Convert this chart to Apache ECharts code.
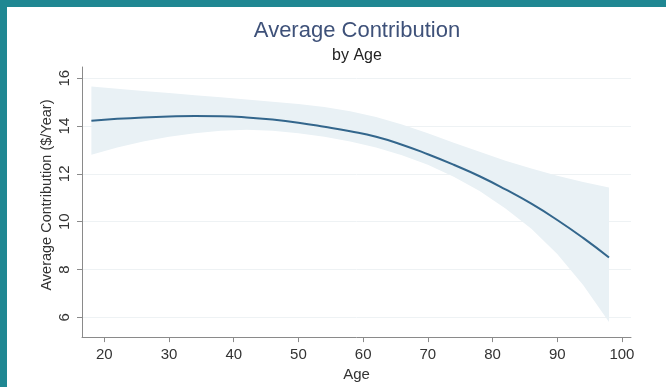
<!DOCTYPE html>
<html>
<head>
<meta charset="utf-8">
<script src="https://cdn.jsdelivr.net/npm/echarts@6/dist/echarts.min.js"></script>
<style>
html, body { margin: 0; padding: 0; width: 666px; height: 387px; overflow: hidden; background: #1f8792; }
#bg { position: absolute; left: 7px; top: 7px; right: 0; bottom: 0; background: #ffffff; }
#chart { position: absolute; left: 0; top: 0; width: 666px; height: 387px; }
</style>
</head>
<body>
<div id="bg"></div>
<div id="chart"></div>
<script>
const ages = [18, 22, 26, 30, 34, 38, 42, 46, 50, 54, 58, 62, 66, 70, 74, 78, 82, 86, 90, 94, 98];
const fitted = [14.22, 14.30, 14.36, 14.40, 14.42, 14.41, 14.36, 14.27, 14.14, 13.97, 13.78, 13.55, 13.22, 12.82, 12.38, 11.90, 11.35, 10.75, 10.07, 9.32, 8.50];
const upper = [15.65, 15.56, 15.47, 15.38, 15.29, 15.20, 15.11, 15.02, 14.92, 14.80, 14.62, 14.38, 14.06, 13.70, 13.30, 12.92, 12.55, 12.22, 11.92, 11.66, 11.43];
const lower = [12.80, 13.10, 13.35, 13.55, 13.70, 13.80, 13.84, 13.80, 13.70, 13.55, 13.35, 13.10, 12.78, 12.38, 11.88, 11.28, 10.55, 9.70, 8.65, 7.35, 5.80];
const xTicks = [20, 30, 40, 50, 60, 70, 80, 90, 100];
const yTicks = [6, 8, 10, 12, 14, 16];

const chart = echarts.init(document.getElementById('chart'), null, { renderer: 'canvas' });
const font = '"Liberation Sans", Arial, Helvetica, sans-serif';
const axisGray = '#8a8a8a';
const textCol = '#333333';

chart.setOption({
  backgroundColor: 'transparent',
  animation: false,
  title: [
    { text: 'Average Contribution', left: 352, top: 15, textAlign: 'center',
      textStyle: { fontFamily: font, fontSize: 22, fontWeight: 'normal', color: '#3e5179' } },
    { text: 'by Age', left: 352, top: 43, textAlign: 'center',
      textStyle: { fontFamily: font, fontSize: 16, fontWeight: 'normal', color: '#222222' } }
  ],
  grid: { left: 82, right: 35, top: 67, bottom: 49, containLabel: false },
  xAxis: {
    type: 'value', min: 16.55, max: 101.4,
    name: 'Age', nameLocation: 'middle', nameGap: 26,
    nameTextStyle: { fontFamily: font, fontSize: 15, color: textCol },
    axisLine: { show: true, lineStyle: { color: axisGray, width: 1 } },
    axisTick: { show: true, length: 5, customValues: xTicks, lineStyle: { color: axisGray } },
    axisLabel: { customValues: xTicks, margin: 10, fontFamily: font, fontSize: 15, color: textCol },
    splitLine: { show: false }
  },
  yAxis: {
    type: 'value', min: 5.17, max: 16.47,
    name: 'Average Contribution ($/Year)', nameLocation: 'middle', nameGap: 28, nameRotate: 90,
    nameMoveOverlap: false,
    nameTextStyle: { fontFamily: font, fontSize: 14.5, color: textCol, padding: [0, 0, 0, 14] },
    axisLine: { show: true, lineStyle: { color: axisGray, width: 1 } },
    axisTick: { show: true, length: 5, customValues: yTicks, lineStyle: { color: axisGray } },
    axisLabel: { customValues: yTicks, rotate: 90, margin: 10, fontFamily: font, fontSize: 15, color: textCol },
    splitLine: { show: false }
  },
  series: [
    {
      type: 'line', name: 'grid', symbol: 'none', silent: true, z: 0,
      data: [],
      markLine: {
        silent: true, symbol: 'none', label: { show: false }, z: 0,
        lineStyle: { color: '#eef2f4', width: 1, type: 'solid' },
        data: yTicks.map(v => ({ yAxis: v }))
      }
    },
    {
      type: 'custom', name: 'ci', silent: true, z: 1,
      data: [0],
      renderItem: function (params, api) {
        const pts = [];
        for (let i = 0; i < ages.length; i++) pts.push(api.coord([ages[i], upper[i]]));
        for (let i = ages.length - 1; i >= 0; i--) pts.push(api.coord([ages[i], lower[i]]));
        return {
          type: 'polygon',
          shape: { points: pts },
          style: { fill: '#e9f1f5' }
        };
      }
    },
    {
      type: 'line', name: 'fit', symbol: 'none', smooth: true, z: 3,
      data: ages.map((a, i) => [a, fitted[i]]),
      lineStyle: { color: '#33668c', width: 2 }
    }
  ]
});
</script>
</body>
</html>
